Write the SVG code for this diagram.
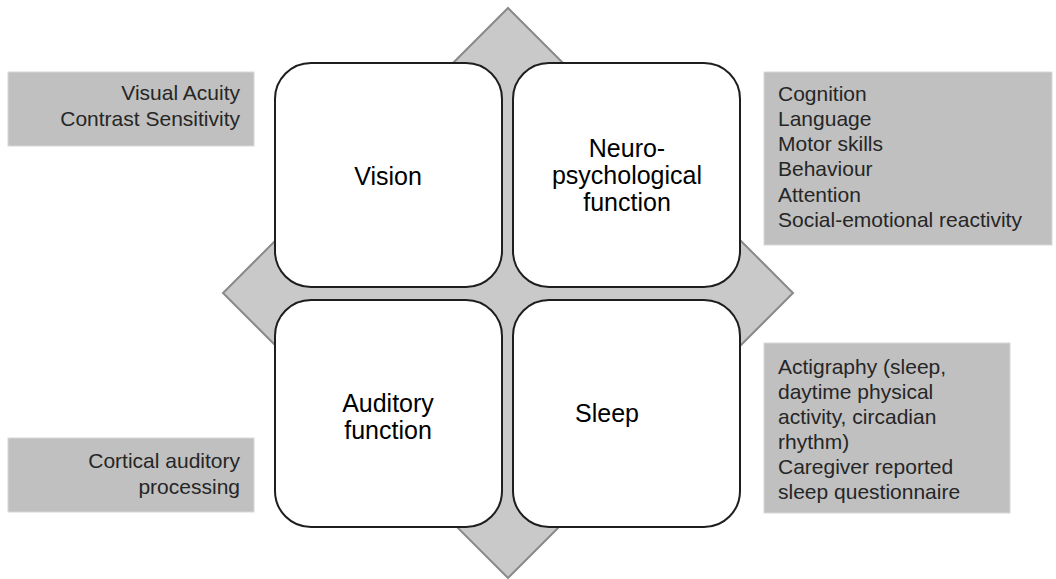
<svg xmlns="http://www.w3.org/2000/svg" width="1056" height="579" viewBox="0 0 1056 579">
<style>
.diamond{fill:#c9c9c9;stroke:#8a8a8a;stroke-width:2}
.node{fill:#ffffff;stroke:#1e1e1e;stroke-width:2}
.lbl{fill:#c0c0c0;stroke:#d8d8d8;stroke-width:1}
.nt{font-family:"Liberation Sans",Arial,sans-serif;font-size:25px;fill:#000;text-anchor:middle}
.lt{font-family:"Liberation Sans",Arial,sans-serif;font-size:21px;fill:#262626}
.r{text-anchor:end}
</style>
<rect width="1056" height="579" fill="#ffffff"/>
<polygon class="diamond" points="508,8 793,293 508,578 223,293"/>
<g id="node-vision">
<rect class="node" x="275" y="63" width="227" height="224" rx="36" ry="36"/>
<text class="nt" x="388" y="185">Vision</text>
</g>
<g id="node-neuro">
<rect class="node" x="513" y="63" width="227" height="224" rx="36" ry="36"/>
<text class="nt" x="627" y="157">Neuro-</text>
<text class="nt" x="627" y="184">psychological</text>
<text class="nt" x="627" y="211">function</text>
</g>
<g id="node-auditory">
<rect class="node" x="275" y="300" width="227" height="227" rx="36" ry="36"/>
<text class="nt" x="388" y="412">Auditory</text>
<text class="nt" x="388" y="439">function</text>
</g>
<g id="node-sleep">
<rect class="node" x="513" y="300" width="227" height="227" rx="36" ry="36"/>
<text class="nt" x="607" y="422">Sleep</text>
</g>
<g id="label-vision">
<rect class="lbl" x="8" y="72" width="246" height="74"/>
<text class="lt r" x="240" y="100">Visual Acuity</text>
<text class="lt r" x="240" y="126">Contrast Sensitivity</text>
</g>
<g id="label-neuro">
<rect class="lbl" x="764" y="72" width="288" height="173"/>
<text class="lt" x="778" y="101">Cognition</text>
<text class="lt" x="778" y="126">Language</text>
<text class="lt" x="778" y="151">Motor skills</text>
<text class="lt" x="778" y="176">Behaviour</text>
<text class="lt" x="778" y="202">Attention</text>
<text class="lt" x="778" y="227">Social-emotional reactivity</text>
</g>
<g id="label-sleep">
<rect class="lbl" x="764" y="343" width="246" height="170"/>
<text class="lt" x="778" y="374">Actigraphy (sleep,</text>
<text class="lt" x="778" y="399">daytime physical</text>
<text class="lt" x="778" y="424">activity, circadian</text>
<text class="lt" x="778" y="449">rhythm)</text>
<text class="lt" x="778" y="474">Caregiver reported</text>
<text class="lt" x="778" y="499">sleep questionnaire</text>
</g>
<g id="label-auditory">
<rect class="lbl" x="8" y="438" width="246" height="74"/>
<text class="lt r" x="240" y="468">Cortical auditory</text>
<text class="lt r" x="240" y="494">processing</text>
</g>
<g id="connectors"></g>
</svg>
